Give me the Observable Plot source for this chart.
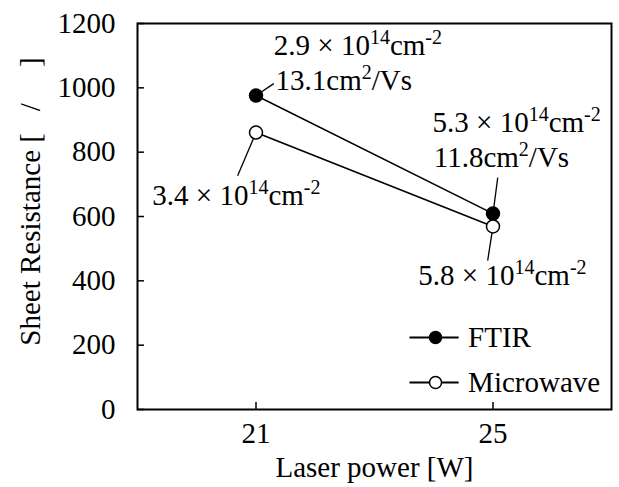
<!DOCTYPE html>
<html>
<head>
<meta charset="utf-8">
<script src="https://cdn.jsdelivr.net/npm/d3@7"></script>
<script src="https://cdn.jsdelivr.net/npm/@observablehq/plot@0.6"></script>
<style>
  html, body { margin: 0; padding: 0; background: white; }
  #chart svg, #chart svg text { font-family: "Liberation Serif", "Times New Roman", "DejaVu Serif", serif !important; }
</style>
</head>
<body>
<div id="chart"></div>
<script>
// ---- data ----
const xTicks = [21, 25];
const yTicks = [0, 200, 400, 600, 800, 1000, 1200];
const power = [21, 25];
const ftir = [976, 609];
const microwave = [861, 569];
const seriesNames = ["FTIR", "Microwave"];

// annotations (data coordinates)
const annText = [
  "2.9 × 10^{14}cm^{-2}",
  "13.1cm^{2}/Vs",
  "5.3 × 10^{14}cm^{-2}",
  "11.8cm^{2}/Vs",
  "3.4 × 10^{14}cm^{-2}",
  "5.8 × 10^{14}cm^{-2}"
];
const annX = [21.30, 21.33, 23.98, 24.0, 19.25, 23.74];
const annY = [1132, 1023, 892, 783, 665, 417];

// leader lines (from point to label)
const leadX1 = [21, 25, 21, 25];
const leadY1 = [976, 609, 861, 569];
const leadX2 = [21.30, 25.08, 20.69, 24.91];
const leadY2 = [1013, 721, 727, 463];

// legend (data coordinates)
const legX1 = 23.59, legX2 = 24.42, legDot = 24.03, legText = 24.58;
const legY = [224, 84];

const yLabel = "Sheet Resistance [\u00A0\u00A0\u00A0/\u00A0\u00A0\u00A0\u00A0\u00A0]";
const xLabel = "Laser power [W]";

// ---- build tables ----
const rows = [];
power.forEach((p, i) => {
  rows.push({series: "FTIR", x: p, y: ftir[i]});
  rows.push({series: "Microwave", x: p, y: microwave[i]});
});
const ann = annText.map((t, i) => ({t, x: annX[i], y: annY[i]}));
const leads = leadX1.map((_, i) => ({x1: leadX1[i], y1: leadY1[i], x2: leadX2[i], y2: leadY2[i]}));
const leg = seriesNames.map((s, i) => ({s, y: legY[i]}));

const W = 619, H = 487;
const mL = 137, mR = 8, mT = 23, mB = 78;
const fw = W - mL - mR, fh = H - mT - mB;

const plot = Plot.plot({
  width: W, height: H,
  marginLeft: mL, marginRight: mR, marginTop: mT, marginBottom: mB,
  style: {fontFamily: "Liberation Serif", fontSize: "29px", color: "black", background: "white"},
  x: {domain: [19, 27], ticks: xTicks, tickSize: 0, tickPadding: 13, tickFormat: d => String(d), label: null},
  y: {domain: [0, 1200], ticks: yTicks, tickSize: 0, tickPadding: 22, tickFormat: d => String(d), label: null},
  marks: [
    Plot.tickY(yTicks, {y: d => d, insetRight: fw - 7, stroke: "black", strokeWidth: 1.5}),
    Plot.tickX(xTicks, {x: d => d, insetTop: fh - 7, stroke: "black", strokeWidth: 1.5}),
    Plot.frame({stroke: "black", strokeWidth: 2}),
    Plot.link(leads, {x1: "x1", y1: "y1", x2: "x2", y2: "y2", stroke: "black", strokeWidth: 1.3}),
    Plot.line(rows, {x: "x", y: "y", z: "series", stroke: "black", strokeWidth: 1.6}),
    Plot.dot(rows, {x: "x", y: "y", r: 6.5, stroke: "black", strokeWidth: 1.5,
      fill: d => d.series === "FTIR" ? "black" : "white"}),
    Plot.text(ann, {x: "x", y: "y", text: "t", textAnchor: "start", fill: "black"}),
    // legend
    Plot.link(leg, {x1: legX1, x2: legX2, y1: "y", y2: "y", stroke: "black", strokeWidth: 2}),
    Plot.dot(leg, {x: legDot, y: "y", r: 6, stroke: "black", strokeWidth: 1.5,
      fill: d => d.s === "FTIR" ? "black" : "white"}),
    Plot.text(leg, {x: legText, y: "y", text: "s", textAnchor: "start", fill: "black"}),
    // axis labels
    Plot.text([yLabel], {frameAnchor: "left", textAnchor: "middle", lineAnchor: "middle", rotate: -90, dx: -107, dy: -15, fill: "black"}),
    Plot.text([xLabel], {frameAnchor: "bottom", textAnchor: "middle", lineAnchor: "middle", dy: 58, fill: "black"})
  ]
});

// superscripts
d3.select(plot).selectAll("text").each(function() {
  const s = this.textContent;
  if (!s.includes("^{")) return;
  const parts = s.split(/\^\{([^}]*)\}/);
  const el = d3.select(this);
  el.text(null);
  let raised = false;
  parts.forEach((p, i) => {
    if (p === "") { return; }
    const sup = i % 2 === 1;
    const ts = el.append("tspan").text(p);
    if (sup) {
      ts.attr("font-size", "20px").attr("dy", raised ? null : "-11");
      raised = true;
    } else {
      if (raised) ts.attr("dy", "11");
      raised = false;
    }
  });
});

document.getElementById("chart").appendChild(plot);
</script>
</body>
</html>
